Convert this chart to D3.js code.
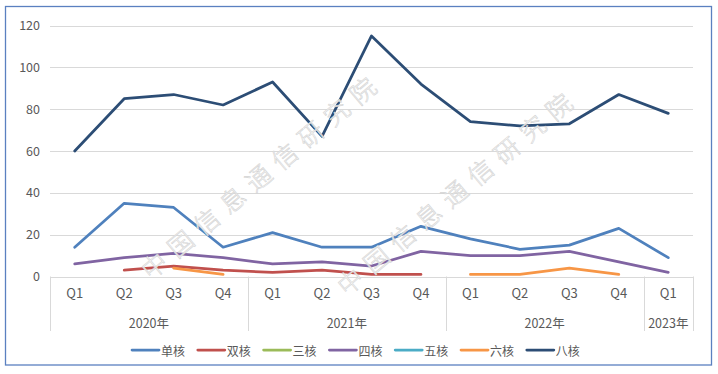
<!DOCTYPE html>
<html>
<head>
<meta charset="utf-8">
<script src="https://cdn.jsdelivr.net/npm/d3@7"></script>
<style>
  html, body { margin: 0; padding: 0; background: #fff; }
  svg { display: block; }
  text { font-family: "Noto Sans CJK SC", "Microsoft YaHei", sans-serif; fill: #595959; }
</style>
</head>
<body>
<svg id="chart" width="718" height="374"></svg>
<script>
// ---- data ----
const years = ["2020年", "2021年", "2022年", "2023年"];
const quarters = ["Q1","Q2","Q3","Q4","Q1","Q2","Q3","Q4","Q1","Q2","Q3","Q4","Q1"];
const quarterYear = [0,0,0,0,1,1,1,1,2,2,2,2,3];
const seriesNames = ["单核","双核","三核","四核","五核","六核","八核"];
const seriesColors = ["#4F81BD","#C0504D","#9BBB59","#8064A2","#4BACC6","#F79646","#2C4D75"];
const single = [14,35,33,14,21,14,14,24,18,13,15,23,9];
const dual   = [null,3,5,3,2,3,1,1,null,null,null,null,null];
const triple = [null,null,null,null,null,null,null,null,null,null,null,null,null];
const quad   = [6,9,11,9,6,7,5,12,10,10,12,7,2];
const penta  = [null,null,null,null,null,null,null,null,null,null,null,null,null];
const hexa   = [null,null,4,1,null,null,null,null,1,1,4,1,null];
const octa   = [60,85,87,82,93,67,115,92,74,72,73,87,78];
const yTicks = [0,20,40,60,80,100,120];
const watermark = "中国信息通信研究院";

const seriesValues = [single, dual, triple, quad, penta, hexa, octa];

// ---- layout ----
const svg = d3.select("#chart");
const mLeft = 50, mRight = 693, mTop = 25.5, mBottom = 276.5;

// border
svg.append("rect").attr("x", 5.5).attr("y", 6.5).attr("width", 706).attr("height", 358.5)
  .attr("fill", "#fff").attr("stroke", "#5B80C0").attr("stroke-width", 1.3);

const idx = d3.range(quarters.length);
const x = d3.scaleBand().domain(idx).range([mLeft, mRight]);
const y = d3.scaleLinear().domain([0, 120]).range([mBottom, mTop]);

// gridlines
svg.append("g").selectAll("line").data(yTicks.filter(d => d > 0)).join("line")
  .attr("x1", mLeft).attr("x2", mRight)
  .attr("y1", d => Math.round(y(d)) + 0.5).attr("y2", d => Math.round(y(d)) + 0.5)
  .attr("stroke", "#D9D9D9").attr("stroke-width", 1);

// y axis labels
const yAxis = d3.axisLeft(y).tickValues(yTicks).tickSize(0).tickPadding(10);
const yg = svg.append("g").attr("transform", `translate(${mLeft},0)`).call(yAxis);
yg.select(".domain").remove();
yg.selectAll("text").attr("font-size", 12.5).attr("fill", "#595959")
  .style("font-family", '"Noto Sans CJK SC", sans-serif');

// x axis baseline
svg.append("line").attr("x1", mLeft).attr("x2", mRight)
  .attr("y1", Math.round(y(0)) + 0.5).attr("y2", Math.round(y(0)) + 0.5)
  .attr("stroke", "#D9D9D9");

// quarter labels
const xAxis = d3.axisBottom(x).tickFormat(i => quarters[i]).tickSize(0).tickPadding(12);
const xg = svg.append("g").attr("transform", `translate(0,${mBottom})`).call(xAxis);
xg.select(".domain").remove();
xg.selectAll("text").attr("font-size", 13).attr("fill", "#595959")
  .style("font-family", '"Noto Sans CJK SC", sans-serif');

// year groups
const groups = years.map((yr, gi) => {
  const members = idx.filter(i => quarterYear[i] === gi);
  return { yr, start: x(members[0]), end: x(members[members.length - 1]) + x.bandwidth() };
});
const bounds = [mLeft, ...groups.map(g => g.end)];
svg.append("g").selectAll("line").data(bounds).join("line")
  .attr("x1", d => Math.round(d) + 0.5).attr("x2", d => Math.round(d) + 0.5)
  .attr("y1", mBottom).attr("y2", 331)
  .attr("stroke", "#D9D9D9");
svg.append("g").selectAll("text").data(groups).join("text")
  .attr("x", g => (g.start + g.end) / 2).attr("y", 322)
  .attr("text-anchor", "middle").attr("dominant-baseline", "central")
  .attr("font-size", 12.5).text(g => g.yr);

// lines
const line = d3.line()
  .defined(d => d.v !== null)
  .x(d => x(d.i) + x.bandwidth() / 2)
  .y(d => y(d.v));
const lg = svg.append("g");
seriesValues.forEach((vals, s) => {
  lg.append("path")
    .datum(vals.map((v, i) => ({ i, v })))
    .attr("d", line)
    .attr("fill", "none")
    .attr("stroke", seriesColors[s])
    .attr("stroke-width", 2.75)
    .attr("stroke-linejoin", "round")
    .attr("stroke-linecap", "round");
});

// watermark
const wm = svg.append("g");
[[261, 174], [457, 190]].forEach(([cx, cy]) => {
  wm.append("text")
    .attr("transform", `translate(${cx},${cy}) rotate(-40)`)
    .attr("text-anchor", "middle").attr("dominant-baseline", "central")
    .attr("font-size", 25).attr("letter-spacing", 9)
    .style("font-family", '"Noto Sans CJK SC", sans-serif')
    .style("font-weight", 300)
    .style("fill", "rgba(255,255,255,0.85)")
    .style("stroke", "#D2D2D2").style("stroke-width", 0.6)
    .text(watermark);
});

// legend
const legendX0 = 132, legendStep = 65.8, legendY = 350;
const leg = svg.append("g").selectAll("g").data(seriesNames).join("g")
  .attr("transform", (d, i) => `translate(${legendX0 + i * legendStep},${legendY})`);
leg.append("line").attr("x1", 0).attr("x2", 27).attr("y1", 0).attr("y2", 0)
  .attr("stroke", (d, i) => seriesColors[i]).attr("stroke-width", 2.75).attr("stroke-linecap", "round");
leg.append("text").attr("x", 29).attr("y", 0).attr("dominant-baseline", "central")
  .attr("font-size", 12).text(d => d);
</script>
</body>
</html>
